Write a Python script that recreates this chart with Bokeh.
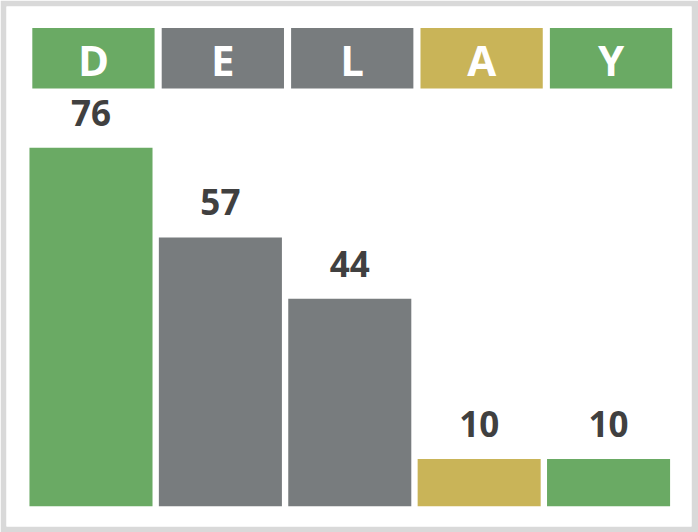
from bokeh.plotting import figure
from bokeh.models import ColumnDataSource, Range1d
from bokeh.transform import dodge
from bokeh.core.properties import value
from bokeh.embed import file_html
from bokeh.resources import INLINE

# ---- data ----
letters = ["D", "E", "L", "A", "Y"]
counts = [76, 57, 44, 10, 10]
tile_colors = ["#6aaa64", "#787c7e", "#787c7e", "#c9b458", "#6aaa64"]

positions = list(range(len(letters)))
src = ColumnDataSource(dict(
    x=positions,
    letter=letters,
    count=counts,
    label=[str(c) for c in counts],
    color=tile_colors,
))

p = figure(width=698, height=532, output_backend="svg", toolbar_location=None,
           x_range=Range1d(-0.653, 4.641), y_range=Range1d(-4.30, 105.96),
           min_border_left=6, min_border_right=7, min_border_top=6, min_border_bottom=6)
p.background_fill_color = "white"
p.border_fill_color = "#d9d9d9"
p.outline_line_color = None
p.xaxis.visible = False
p.yaxis.visible = False
p.xgrid.visible = False
p.ygrid.visible = False

# bars
p.vbar(x="x", top="count", bottom=0, width=0.951, fill_color="color",
       line_color=None, source=src)

# value labels
p.text(x="x", y="count", text="label", source=src, text_align="center",
       text_baseline="alphabetic", y_offset=-35,
       text_font=value("Open Sans"), text_font_style="bold",
       text_font_size="35px", text_color="#404040")

# letter tiles
tile_x = dodge("x", 0.019)
p.rect(x=tile_x, y=94.99, width=0.945, height=12.83, fill_color="color",
       line_color=None, source=src)
p.text(x=tile_x, y=88.57, text="letter", source=src, text_align="center",
       text_baseline="alphabetic", y_offset=-29,
       text_font=value("Open Sans"), text_font_style="bold",
       text_font_size="42px", text_color="white")

open("out.html", "w").write(file_html(p, INLINE))
